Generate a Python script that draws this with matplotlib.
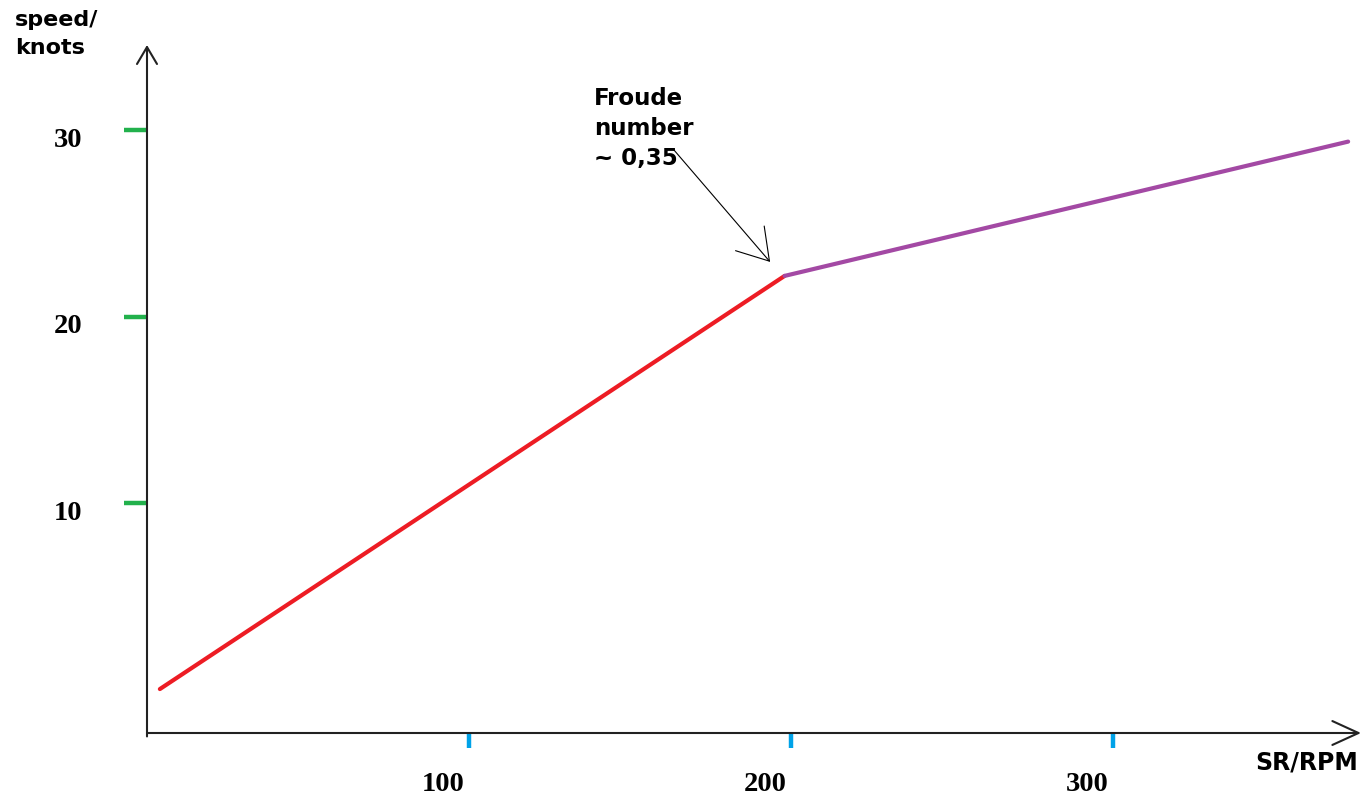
import matplotlib
matplotlib.use("Agg")
import matplotlib.pyplot as plt
from matplotlib.transforms import ScaledTranslation

# speed vs shaft RPM
rpm_below = [4, 198]
speed_below = [0.05, 22.2]
rpm_above = [198, 373]
speed_above = [22.2, 29.4]

x_ticks = [100, 200, 300]
y_ticks = [10, 20, 30]

froude_text = "Froude\nnumber\n~ 0,35"
froude_tip = (193.5, 22.95)
froude_tail = (163.4, 29.0)

fig = plt.figure(figsize=(13.61, 7.97), dpi=100)
ax = fig.add_axes([147 / 1361, 64 / 797, 1214 / 1361, 688 / 797])
ax.set_xlim(0, 377.0)
ax.set_ylim(-2.306, 34.58)
for spine in ax.spines.values():
    spine.set_visible(False)

ax.plot(rpm_below, speed_below, color="#ed1c24", lw=3.0, solid_capstyle="round")
ax.plot(rpm_above, speed_above, color="#a349a4", lw=3.0, solid_capstyle="round")

# hand drawn axes with open arrow heads
axis_color = "#222222"
ax.annotate("", xy=(0, 1), xytext=(0, -0.005), xycoords="axes fraction",
            arrowprops=dict(arrowstyle="->,head_length=0.61,head_width=0.36",
                            lw=1.5, color=axis_color, mutation_scale=20,
                            shrinkA=0, shrinkB=0))
ax.annotate("", xy=(1, 0), xytext=(0, 0), xycoords="axes fraction",
            arrowprops=dict(arrowstyle="->,head_length=0.94,head_width=0.43",
                            lw=1.5, color=axis_color, mutation_scale=20,
                            shrinkA=0, shrinkB=0))

ax.set_xticks(x_ticks)
ax.set_xticklabels([str(v) for v in x_ticks])
ax.set_yticks(y_ticks)
ax.set_yticklabels([str(v) for v in y_ticks])
ax.tick_params(axis="x", direction="out", length=11, width=3.2, color="#00a2e8", pad=17)
ax.tick_params(axis="y", direction="out", length=16.5, width=3.2, color="#22b14c", pad=30)
for label in ax.get_xticklabels():
    label.set_fontfamily("Liberation Serif")
    label.set_fontweight("bold")
    label.set_fontsize(20.5)
    label.set_transform(label.get_transform() + ScaledTranslation(-0.26, 0, fig.dpi_scale_trans))
for label in ax.get_yticklabels():
    label.set_fontfamily("Liberation Serif")
    label.set_fontweight("bold")
    label.set_fontsize(20.5)
    label.set_transform(label.get_transform() + ScaledTranslation(0, -0.07, fig.dpi_scale_trans))

fig.text(15 / 1361, 1 - 10 / 797, "speed/\nknots", ha="left", va="top",
         fontsize=16, fontweight="bold", family="DejaVu Sans", linespacing=1.5)
fig.text(1358 / 1361, 1 - 751 / 797, "SR/RPM", ha="right", va="top",
         fontsize=17, fontweight="bold", family="DejaVu Sans")

ax.text(138.8, 32.35, froude_text, ha="left", va="top", fontsize=16.5,
        fontweight="bold", family="DejaVu Sans", linespacing=1.4)
ax.annotate("", xy=froude_tip, xytext=froude_tail,
            arrowprops=dict(arrowstyle="->,head_length=1.08,head_width=0.68",
                            lw=0.8, color="black", mutation_scale=20,
                            shrinkA=0, shrinkB=0))

fig.savefig("out.png", dpi=100)
